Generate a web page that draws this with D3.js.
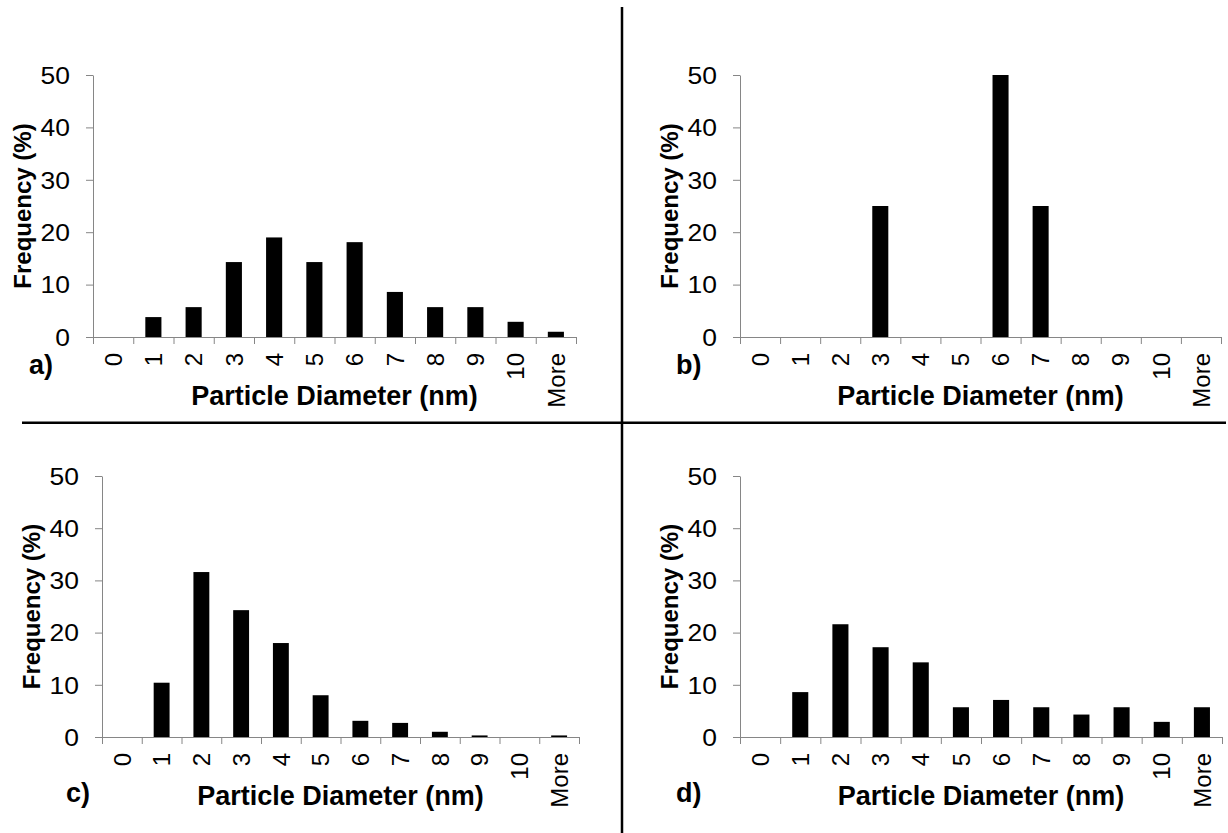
<!DOCTYPE html>
<html>
<head>
<meta charset="utf-8">
<script src="https://cdn.jsdelivr.net/npm/d3@7"></script>
<style>
	body { margin: 0; background: #fff; }
	svg { display: block; font-family: Arial, 'Liberation Sans', sans-serif; }
	.axis path, .axis line { stroke: #868686; stroke-width: 1; }
	.axis text { fill: #000; font-size: 23px; }
</style>
</head>
<body>
<div id="chart"></div>
<script>
// Bin labels (nm)
const categories = ['0', '1', '2', '3', '4', '5', '6', '7', '8', '9', '10', 'More'];
const yTicks = [0, 10, 20, 30, 40, 50];

// Frequency (%) per bin, one array per panel
const freqA = [0, 3.8, 5.7, 14.3, 19.0, 14.3, 18.1, 8.6, 5.7, 5.7, 2.9, 1.0];
const freqB = [0, 0, 0, 25, 0, 0, 50, 25, 0, 0, 0, 0];
const freqC = [0, 10.4, 31.6, 24.3, 18.0, 8.0, 3.1, 2.7, 1.0, 0.3, 0, 0.3];
const freqD = [0, 8.6, 21.6, 17.2, 14.3, 5.7, 7.1, 5.7, 4.3, 5.7, 2.9, 5.7];

const panelLabels = ['a)', 'b)', 'c)', 'd)'];

const width = 1228;
const height = 833;
const stretch = 1.15; // the source image is a bit wider than tall, tick text looks stretched

const svg = d3.select('#chart').append('svg').attr('width', width).attr('height', height);

// Panel frames (plot area box + where the letter sits)
const panels = [
	{ data: freqA, label: panelLabels[0], x0: 93, x1: 576, top: 75, bottom: 337, lx: 29, ly: 374 },
	{ data: freqB, label: panelLabels[1], x0: 740, x1: 1221, top: 75, bottom: 337, lx: 676, ly: 374 },
	{ data: freqC, label: panelLabels[2], x0: 102, x1: 579, top: 476, bottom: 737, lx: 66, ly: 802 },
	{ data: freqD, label: panelLabels[3], x0: 740, x1: 1222, top: 476, bottom: 737, lx: 676, ly: 802 },
];

function drawPanel(p) {
	const g = svg.append('g');

	const x = d3.scaleBand().domain(categories).range([p.x0, p.x1]).padding(0);
	const xEdges = d3.scaleLinear().domain([0, categories.length]).range([p.x0, p.x1]);
	const y = d3.scaleLinear().domain([0, 50]).range([p.bottom, p.top]);

	// bars (Excel gap width 150% -> bar = 0.4 of band)
	const bw = x.bandwidth() * 0.4;
	g.selectAll('rect.bar')
		.data(categories.map((c, i) => ({ c: c, v: p.data[i] })))
		.enter()
		.append('rect')
		.attr('class', 'bar')
		.attr('x', (d) => x(d.c) + (x.bandwidth() - bw) / 2)
		.attr('y', (d) => y(d.v))
		.attr('width', bw)
		.attr('height', (d) => y(0) - y(d.v))
		.attr('fill', '#000');

	// y axis
	const yAxis = g
		.append('g')
		.attr('class', 'axis')
		.attr('transform', `translate(${p.x0},0)`)
		.call(d3.axisLeft(y).tickValues(yTicks).tickSize(7).tickSizeOuter(0).tickPadding(16));
	yAxis.selectAll('text')
		.attr('x', -23 / stretch)
		.attr('dy', '0.36em')
		.attr('transform', `scale(${stretch},1)`);

	// x axis: tick marks on bin edges
	g.append('g')
		.attr('class', 'axis')
		.attr('transform', `translate(0,${p.bottom})`)
		.call(d3.axisBottom(xEdges).tickValues(d3.range(categories.length + 1)).tickFormat('').tickSize(7).tickSizeOuter(0));

	// x axis: rotated category labels at bin centres
	const xLab = g
		.append('g')
		.attr('class', 'axis')
		.attr('transform', `translate(0,${p.bottom})`)
		.call(d3.axisBottom(x).tickSize(0));
	xLab.select('.domain').remove();
	xLab.selectAll('text')
		.style('font-size', '24px')
		.attr('transform', 'rotate(-90)')
		.attr('text-anchor', 'end')
		.attr('x', -16)
		.attr('y', 0)
		.attr('dy', '0.36em');

	// axis titles
	g.append('text')
		.attr('transform', `translate(${p.x0 - 71},${(p.top + p.bottom) / 2}) rotate(-90)`)
		.attr('text-anchor', 'middle')
		.attr('dy', '0.36em')
		.style('font-weight', 'bold')
		.style('font-size', '24px')
		.text('Frequency (%)');

	g.append('text')
		.attr('x', (p.x0 + p.x1) / 2)
		.attr('y', p.bottom + 68)
		.attr('text-anchor', 'middle')
		.style('font-weight', 'bold')
		.style('font-size', '27px')
		.text('Particle Diameter (nm)');

	// panel letter
	g.append('text').attr('x', p.lx).attr('y', p.ly).style('font-weight', 'bold').style('font-size', '27px').text(p.label);
}

panels.forEach(drawPanel);

// divider lines between the four panels
svg.append('line').attr('x1', 622).attr('x2', 622).attr('y1', 7).attr('y2', height).attr('stroke', '#000').attr('stroke-width', 2.5);
svg.append('line').attr('x1', 22).attr('x2', 1226).attr('y1', 422.7).attr('y2', 422.7).attr('stroke', '#000').attr('stroke-width', 2.5);
</script>
</body>
</html>
